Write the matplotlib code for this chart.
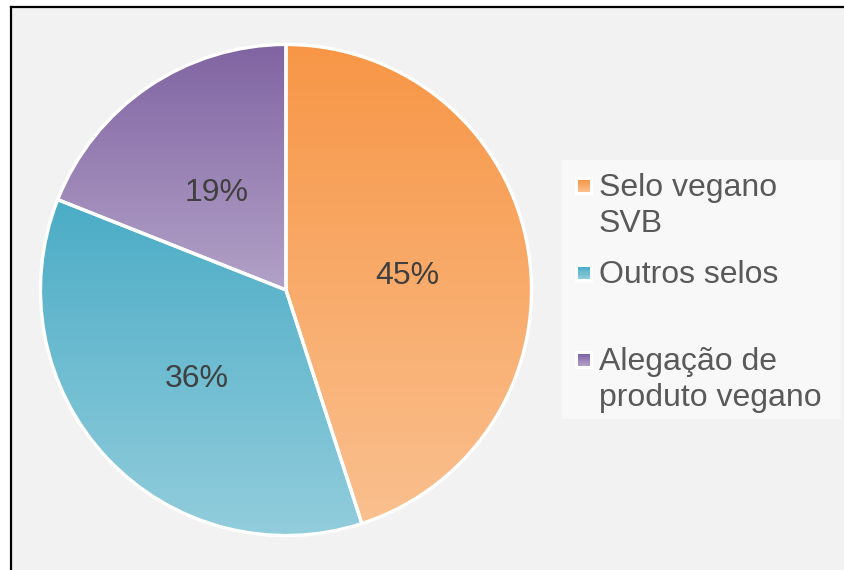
import matplotlib
matplotlib.use("Agg")
import matplotlib.pyplot as plt
from matplotlib.patches import Rectangle
from matplotlib.colors import to_rgb
from matplotlib.transforms import ScaledTranslation
import numpy as np

# data
categories = ['Selo vegano\nSVB', 'Outros selos', 'Alegação de\nproduto vegano']
shares = [45, 36, 19]
top_colors = ['#F79646', '#4BACC6', '#8064A2']
bottom_colors = ['#FAC08F', '#92CDDC', '#B2A1C7']

W, H = 844, 570
plt.rcParams['font.family'] = ['Liberation Sans', 'DejaVu Sans']


def gradient(top, bottom, n=256):
    """Vertical gradient image, row 0 = top colour."""
    t = np.linspace(0, 1, n)[:, None, None]
    a = np.array(to_rgb(top))[None, None, :]
    b = np.array(to_rgb(bottom))[None, None, :]
    return a + (b - a) * t


fig = plt.figure(figsize=(W / 100, H / 100), dpi=100)
fig.patch.set_facecolor('white')

# background axes in pixel coordinates (y down)
bg = fig.add_axes([0, 0, 1, 1], zorder=0)
bg.set_axis_off()
bg.add_patch(Rectangle((11, 7), W - 11, H - 7, facecolor='#F2F2F2', edgecolor='none'))
bg.plot([11, 11], [7, H + 5], color='black', lw=1.6, solid_capstyle='projecting')
bg.plot([11, W + 5], [7, 7], color='black', lw=1.6, solid_capstyle='projecting')

# legend
bg.add_patch(Rectangle((562, 160), 279, 259, facecolor='#F8F8F8', edgecolor='none'))
first_baselines = [196, 283, 370]
line_step = 36
for i, label in enumerate(categories):
    yb = first_baselines[i]
    yc = yb - 10
    bg.add_patch(Rectangle((575, yc - 9), 18, 18, facecolor='white', edgecolor='none'))
    bg.imshow(gradient(top_colors[i], bottom_colors[i]), extent=(578, 590, yc + 6, yc - 6),
              aspect='auto', zorder=3)
    for j, line in enumerate(label.split('\n')):
        bg.text(599, yb + j * line_step, line, fontsize=23, color='#595959',
                ha='left', va='baseline')
bg.set_xlim(0, W)
bg.set_ylim(H, 0)

# pie
cx, cy, r = 286, 290, 248
ax = fig.add_axes([(cx - r) / W, (H - cy - r) / H, 2 * r / W, 2 * r / H], zorder=1)
ax.patch.set_alpha(0)
wedges, texts, autotexts = ax.pie(
    shares, startangle=90, counterclock=False, radius=1,
    autopct='%d%%', pctdistance=0.5,
    wedgeprops=dict(edgecolor='white', linewidth=2.4, facecolor='none'),
    textprops=dict(fontsize=23, color='#404040'))
for i, w in enumerate(wedges):
    bb = w.get_path().get_extents()
    im = ax.imshow(gradient(top_colors[i], bottom_colors[i]),
                   extent=(bb.x0, bb.x1, bb.y0, bb.y1), aspect='auto', zorder=0.5)
    im.set_clip_path(w)
    w.set_zorder(2)
for t in autotexts:
    t.set_zorder(3)
    t.set_transform(ax.transData + ScaledTranslation(0, -0.05, fig.dpi_scale_trans))
ax.set_xlim(-1.01, 1.01)
ax.set_ylim(-1.01, 1.01)
ax.set_aspect('equal')
ax.set_axis_off()

plt.savefig('out.png', dpi=100)
